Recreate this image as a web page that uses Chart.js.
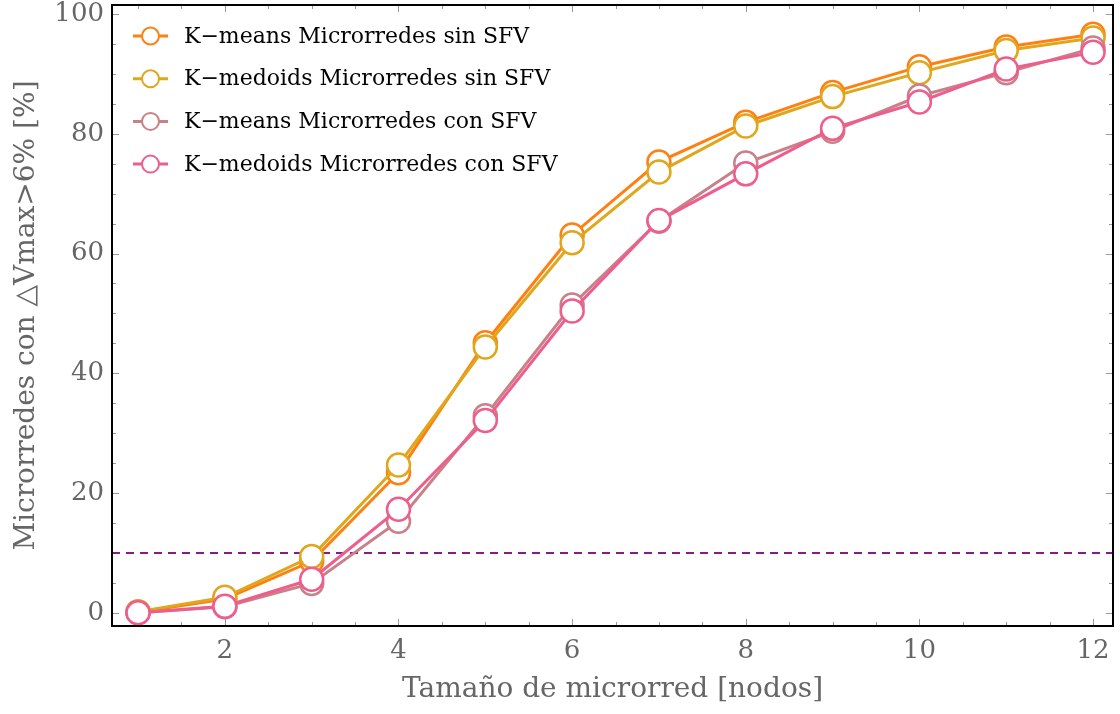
<!DOCTYPE html>
<html>
<head>
<meta charset="utf-8">
<script src="https://cdn.jsdelivr.net/npm/chart.js@4/dist/chart.umd.min.js"></script>
<style>
  html, body { margin: 0; padding: 0; background: #ffffff; }
  #wrap { width: 1120px; height: 714px; }
</style>
</head>
<body>
<div id="wrap"><canvas id="c" width="1120" height="714"></canvas></div>
<script>
// Tamaño de microrred (nodos) y porcentaje de microrredes con ΔVmax > 6 %
const nodos = [1, 2, 3, 4, 5, 6, 7, 8, 9, 10, 11, 12];
const kmeansSinSFV   = [0.1, 2.3, 8.6, 23.4, 45.1, 63.1, 75.3, 81.9, 86.9, 91.2, 94.5, 96.6];
const kmedoidsSinSFV = [0.2, 2.6, 9.4, 24.7, 44.4, 61.8, 73.6, 81.3, 86.2, 90.2, 93.9, 96.0];
const kmeansConSFV   = [0.0, 1.0, 4.9, 15.3, 32.9, 51.4, 65.4, 75.1, 80.4, 86.3, 90.2, 94.3];
const kmedoidsConSFV = [0.0, 1.1, 5.6, 17.3, 32.1, 50.4, 65.5, 73.3, 80.9, 85.3, 90.8, 93.6];

const etiquetas = [
  'K\u2212means Microrredes sin SFV',
  'K\u2212medoids Microrredes sin SFV',
  'K\u2212means Microrredes con SFV',
  'K\u2212medoids Microrredes con SFV'
];
const colores = ['#ff8010', '#e0a61c', '#c98088', '#ee5e8c'];

const xTicks = [2, 4, 6, 8, 10, 12];
const yTicks = [0, 20, 40, 60, 80, 100];
const umbral = 10;   // límite de referencia (10 %)

const FUENTE = '"DejaVu Serif", "Liberation Serif", serif';

function serie(valores) {
  return nodos.map((n, i) => ({ x: n, y: valores[i] }));
}

const series = [kmeansSinSFV, kmedoidsSinSFV, kmeansConSFV, kmedoidsConSFV];
const datasets = series.map((v, i) => ({
  label: etiquetas[i],
  data: serie(v),
  borderColor: colores[i],
  backgroundColor: '#ffffff',
  borderWidth: 3,
  pointRadius: 11.5,
  pointBorderWidth: 2.5,
  pointBackgroundColor: '#ffffff',
  pointBorderColor: colores[i],
  tension: 0,
  clip: false,
  order: series.length - i
}));

// Sin márgenes extra de las etiquetas: el marco ocupa el área fijada
function sinRelleno(s) {
  s.paddingTop = 0; s.paddingBottom = 0;
  s.paddingLeft = 0; s.paddingRight = 0;
}

// Marco con marcas internas (mayores y menores) y línea de umbral
const marcoPlugin = {
  id: 'marco',
  beforeDatasetsDraw(chart) {
    const { ctx, chartArea: a, scales: { x, y } } = chart;
    ctx.save();
    ctx.strokeStyle = '#9a9a9a';
    ctx.lineWidth = 1;
    for (let v = 1; v <= 12.001; v += 0.5) {
      const px = Math.round(x.getPixelForValue(v)) + 0.5;
      const len = xTicks.includes(v) ? 7 : 4;
      ctx.beginPath();
      ctx.moveTo(px, a.bottom); ctx.lineTo(px, a.bottom - len);
      ctx.moveTo(px, a.top); ctx.lineTo(px, a.top + len);
      ctx.stroke();
    }
    for (let v = 0; v <= 100; v += 5) {
      const py = Math.round(y.getPixelForValue(v)) + 0.5;
      const len = yTicks.includes(v) ? 7 : 4;
      ctx.beginPath();
      ctx.moveTo(a.left, py); ctx.lineTo(a.left + len, py);
      ctx.moveTo(a.right, py); ctx.lineTo(a.right - len, py);
      ctx.stroke();
    }
    const yu = y.getPixelForValue(umbral);
    ctx.strokeStyle = '#8a1a8a';
    ctx.lineWidth = 2;
    ctx.setLineDash([8, 6]);
    ctx.beginPath();
    ctx.moveTo(a.left, yu); ctx.lineTo(a.right, yu);
    ctx.stroke();
    ctx.restore();
  },
  afterDraw(chart) {
    const { ctx, chartArea: a } = chart;
    ctx.save();
    ctx.strokeStyle = '#000000';
    ctx.lineWidth = 2;
    ctx.strokeRect(a.left, a.top, a.right - a.left, a.bottom - a.top);
    ctx.restore();
  }
};

// Leyenda interna: línea con marcador circular
const leyendaPlugin = {
  id: 'leyenda',
  afterDraw(chart) {
    const { ctx } = chart;
    ctx.save();
    chart.data.datasets.forEach((ds, i) => {
      const yc = 36 + i * 42.7;
      ctx.strokeStyle = ds.borderColor;
      ctx.lineWidth = 3;
      ctx.beginPath();
      ctx.moveTo(133, yc); ctx.lineTo(168, yc);
      ctx.stroke();
      ctx.beginPath();
      ctx.arc(150.5, yc, 8.5, 0, Math.PI * 2);
      ctx.fillStyle = '#ffffff';
      ctx.fill();
      ctx.lineWidth = 2;
      ctx.stroke();
      ctx.fillStyle = '#000000';
      ctx.font = '22px ' + FUENTE;
      ctx.textBaseline = 'middle';
      ctx.textAlign = 'left';
      ctx.fillText(ds.label, 184, yc + 1);
    });
    ctx.restore();
  }
};

new Chart(document.getElementById('c'), {
  type: 'line',
  data: { datasets },
  options: {
    responsive: false,
    devicePixelRatio: 1,
    animation: false,
    layout: { autoPadding: false, padding: { top: 5, right: 7, left: 0, bottom: 0 } },
    plugins: { legend: { display: false }, tooltip: { enabled: false } },
    scales: {
      x: {
        type: 'linear',
        min: 0.7,
        max: 12.23,
        afterBuildTicks: s => { s.ticks = xTicks.map(v => ({ value: v })); },
        afterFit: s => { s.height = 88; sinRelleno(s); },
        grid: { display: false, drawTicks: false },
        border: { display: false },
        ticks: {
          color: '#666666',
          padding: 10,
          font: { family: FUENTE, size: 26 },
          maxRotation: 0
        },
        title: {
          display: true,
          text: 'Tamaño de microrred [nodos]',
          color: '#666666',
          font: { family: FUENTE, size: 28 },
          padding: { top: 0, bottom: 7 }
        }
      },
      y: {
        type: 'linear',
        min: -2.2,
        max: 101.5,
        afterBuildTicks: s => { s.ticks = yTicks.map(v => ({ value: v })); },
        afterFit: s => { s.width = 112; sinRelleno(s); },
        grid: { display: false, drawTicks: false },
        border: { display: false },
        ticks: {
          color: '#666666',
          padding: 8,
          font: { family: FUENTE, size: 26 }
        },
        title: {
          display: true,
          text: 'Microrredes con \u25B3Vmax>6% [%]',
          color: '#666666',
          font: { family: FUENTE, size: 28 },
          padding: { top: 10, bottom: 0 }
        }
      }
    }
  },
  plugins: [marcoPlugin, leyendaPlugin]
});
</script>
</body>
</html>
